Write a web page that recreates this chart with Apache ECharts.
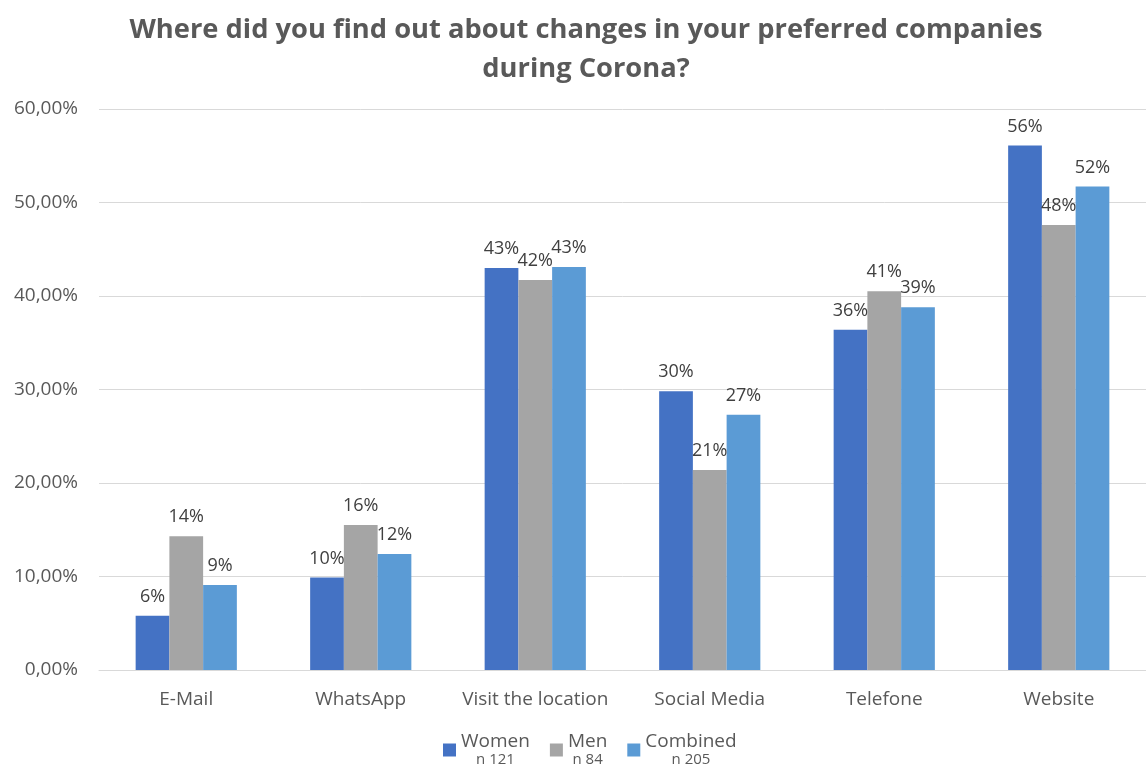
<!DOCTYPE html>
<html>
<head>
<meta charset="utf-8">
<script src="https://cdn.jsdelivr.net/npm/echarts@6/dist/echarts.min.js"></script>
<style>
  html, body { margin: 0; padding: 0; background: #fff; }
  #chart { width: 1146px; height: 767px; }
</style>
</head>
<body>
<div id="chart"></div>
<script>
// categories and values (percent)
var categories = ['E-Mail', 'WhatsApp', 'Visit the location', 'Social Media', 'Telefone', 'Website'];
var women = [5.8, 9.9, 43.0, 29.8, 36.4, 56.1];
var men = [14.3, 15.5, 41.7, 21.4, 40.5, 47.6];
var combined = [9.1, 12.4, 43.1, 27.3, 38.8, 51.7];
var seriesNames = ['Women', 'Men', 'Combined'];
var sampleSizes = ['n 121', 'n 84', 'n 205'];
var colors = ['#4472C4', '#A5A5A5', '#5B9BD5'];

var chart = echarts.init(document.getElementById('chart'));

function barSeries(name, data, color) {
    return {
        name: name,
        type: 'bar',
        data: data,
        barGap: '0%',
        barCategoryGap: '42%',
        itemStyle: { color: color },
        label: {
            show: true,
            position: 'top',
            distance: 10,
            color: '#404040',
            fontSize: 18,
            fontFamily: 'Open Sans',
            formatter: function (p) {
                return Math.round(p.value) + '%';
            }
        }
    };
}

var option = {
    animation: false,
    backgroundColor: '#ffffff',
    textStyle: { fontFamily: 'Open Sans' },
    title: {
        text: 'Where did you find out about changes in your preferred companies\nduring Corona?',
        left: 581,
        top: 6,
        textAlign: 'center',
        textStyle: {
            fontSize: 27.3,
            fontWeight: 'bold',
            color: '#595959',
            lineHeight: 39,
            fontFamily: 'Open Sans'
        }
    },
    color: colors,
    legend: {
        top: 727,
        left: 438,
        itemWidth: 13,
        itemHeight: 13,
        itemGap: 20,
        icon: 'rect',
        data: seriesNames,
        formatter: function (name) {
            var i = seriesNames.indexOf(name);
            return '{a|' + name + '}\n{b|' + sampleSizes[i] + '}';
        },
        textStyle: {
            rich: {
                a: { fontSize: 19, color: '#595959', align: 'center', lineHeight: 20, fontFamily: 'Open Sans' },
                b: { fontSize: 15, color: '#595959', align: 'center', lineHeight: 17, fontFamily: 'Open Sans' }
            }
        }
    },
    grid: {
        left: 99,
        right: 0,
        top: 109,
        bottom: 97,
        containLabel: false
    },
    xAxis: {
        type: 'category',
        data: categories,
        axisTick: { show: false },
        axisLine: { lineStyle: { color: '#D9D9D9' } },
        axisLabel: { color: '#595959', fontSize: 19, margin: 20, interval: 0, fontFamily: 'Open Sans' }
    },
    yAxis: {
        type: 'value',
        min: 0,
        max: 60,
        interval: 10,
        axisLine: { show: false },
        axisTick: { show: false },
        splitLine: { lineStyle: { color: '#D9D9D9' } },
        axisLabel: {
            color: '#595959',
            fontSize: 19,
            margin: 21,
            fontFamily: 'Open Sans',
            formatter: function (v) {
                return v.toFixed(2).replace('.', ',') + '%';
            }
        }
    },
    series: [
        barSeries(seriesNames[0], women, colors[0]),
        barSeries(seriesNames[1], men, colors[1]),
        barSeries(seriesNames[2], combined, colors[2])
    ]
};

chart.setOption(option);
</script>
</body>
</html>
